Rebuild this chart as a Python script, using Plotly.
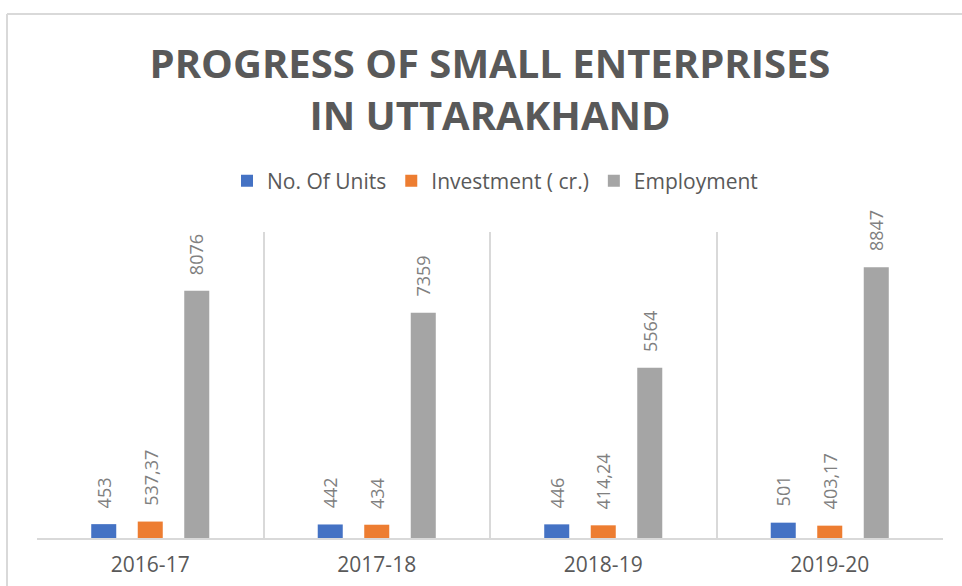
import plotly.graph_objects as go

# Fiscal years and the three indicators per year
years = ["2016-17", "2017-18", "2018-19", "2019-20"]
units = [453, 442, 446, 501]
investment = [537.37, 434, 414.24, 403.17]
employment = [8076, 7359, 5564, 8847]

series_names = ["No. Of Units", "Investment ( cr.)", "Employment"]
series_values = [units, investment, employment]
series_colors = ["#4472C4", "#ED7D31", "#A5A5A5"]

W, H = 962, 586
M_L, M_R, M_T, M_B = 37, 19, 232, 48
PLOT_W = W - M_L - M_R
PLOT_H = H - M_T - M_B


def fmt(v):
    # decimal comma, integers without fraction
    if float(v).is_integer():
        return str(int(v))
    return f"{v:.2f}".replace(".", ",")


fig = go.Figure()
for name, vals, col in zip(series_names, series_values, series_colors):
    fig.add_trace(go.Bar(
        name=name, x=years, y=vals,
        marker=dict(color=col, line=dict(width=0)),
        hoverinfo="x+y+name",
    ))

# rotated value labels above each bar
slot = PLOT_W / len(years) * (1 - 0.384) / 3
annotations = []
for i, vals in enumerate(series_values):
    offset = (i - 1) * slot
    for yr, v in zip(years, vals):
        annotations.append(dict(
            x=yr, y=v, xref="x", yref="y",
            text=fmt(v), showarrow=False, textangle=-90,
            xanchor="center", yanchor="bottom",
            xshift=offset, yshift=14,
            font=dict(family="Open Sans", size=18, color="#808080"),
        ))

# outer chart frame (left and top edges)
fx = (7 - M_L) / PLOT_W
fy = 1 + (M_T - 14) / PLOT_H
shapes = [
    dict(type="line", xref="paper", yref="paper", x0=fx, x1=fx, y0=fy, y1=-0.3,
         line=dict(color="#D9D9D9", width=2)),
    dict(type="line", xref="paper", yref="paper", x0=fx, x1=1.1, y0=fy, y1=fy,
         line=dict(color="#D9D9D9", width=2)),
]

fig.update_layout(
    width=W, height=H,
    margin=dict(l=M_L, r=M_R, t=M_T, b=M_B, autoexpand=False),
    paper_bgcolor="white", plot_bgcolor="white",
    barmode="group", bargap=0.384, bargroupgap=0.462,
    title=dict(
        text="<b>PROGRESS OF SMALL ENTERPRISES<br>IN UTTARAKHAND</b>",
        x=0.5, xref="paper", xanchor="center",
        y=1 - 78 / H, yref="container", yanchor="middle",
        font=dict(family="Open Sans", size=40, color="#595959"),
    ),
    legend=dict(
        orientation="h", x=(495 - M_L) / PLOT_W, xanchor="center",
        y=1 + (M_T - 181) / PLOT_H, yanchor="middle",
        font=dict(family="Open Sans", size=21, color="#595959"),
        bgcolor="rgba(0,0,0,0)",
    ),
    xaxis=dict(
        type="category", tickson="boundaries", showgrid=True,
        gridcolor="#D9D9D9", gridwidth=1.5,
        showline=True, linecolor="#D9D9D9", linewidth=2,
        ticks="", range=[-0.5, 3.5], automargin=False,
        tickfont=dict(family="Open Sans", size=21, color="#595959"),
        ticklabelstandoff=7,
    ),
    yaxis=dict(range=[0, 10000], visible=False, showgrid=False,
               zeroline=False, automargin=False),
    annotations=annotations,
    shapes=shapes,
    showlegend=True,
)

fig.write_html("out.html")
